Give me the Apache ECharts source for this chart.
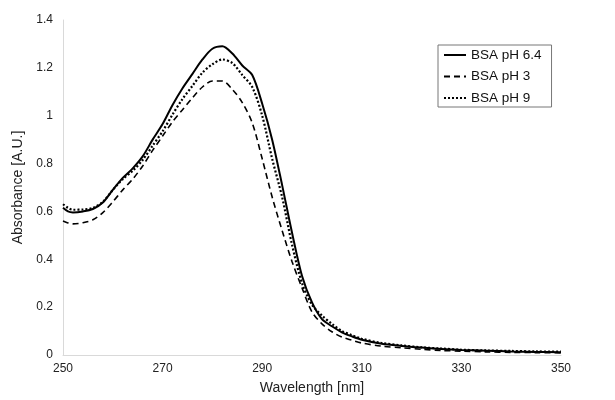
<!DOCTYPE html>
<html>
<head>
<meta charset="utf-8">
<script src="https://cdn.jsdelivr.net/npm/echarts@6/dist/echarts.min.js"></script>
<style>html,body{margin:0;padding:0;background:#fff}#c{width:615px;height:400px}</style>
</head>
<body>
<div id="c"></div>
<script>
var wavelengths = [250,251,252,254,256,258,260,262,264,266,268,270,272,274,276,278,280,282,284,286,288,290,292,294,296,298,300,302,304,306,308,310,314,318,322,326,330,335,340,345,350];
var phNeutral = [0.615,0.600,0.596,0.600,0.610,0.637,0.690,0.740,0.780,0.830,0.900,0.965,1.045,1.115,1.175,1.235,1.280,1.290,1.260,1.210,1.170,1.050,0.900,0.710,0.510,0.330,0.220,0.150,0.120,0.095,0.078,0.064,0.047,0.038,0.031,0.025,0.021,0.018,0.015,0.013,0.012];
var phAcid = [0.560,0.552,0.548,0.553,0.565,0.595,0.640,0.690,0.735,0.790,0.855,0.915,0.975,1.025,1.075,1.120,1.145,1.145,1.110,1.055,0.970,0.820,0.660,0.520,0.390,0.280,0.180,0.130,0.097,0.075,0.062,0.050,0.037,0.030,0.024,0.019,0.016,0.013,0.011,0.010,0.009];
var phBase = [0.630,0.615,0.607,0.608,0.615,0.640,0.690,0.735,0.770,0.815,0.875,0.935,1.005,1.070,1.125,1.180,1.215,1.235,1.220,1.170,1.120,1.000,0.820,0.660,0.460,0.300,0.210,0.165,0.130,0.100,0.083,0.068,0.050,0.040,0.032,0.027,0.022,0.019,0.017,0.015,0.014];
var seriesNames = ['BSA pH 6.4','BSA pH 3','BSA pH 9'];

function pairs(v){ return wavelengths.map(function(w,i){ return [w, v[i]]; }); }

var chart = echarts.init(document.getElementById('c'));
var font = 'Liberation Sans, Arial, sans-serif';
chart.setOption({
  animation: false,
  backgroundColor: '#fff',
  textStyle: {fontFamily: font},
  grid: {left: 63, right: 54, top: 20, bottom: 44},
  legend: {
    orient: 'vertical', left: 438, top: 45,
    padding: [3, 10, 2, 5],
    borderColor: '#777', borderWidth: 1,
    itemWidth: 22, itemHeight: 12, itemGap: 7.5,
    itemStyle: {opacity: 0},
    textStyle: {fontSize: 13.5, color: '#111', fontFamily: font},
    data: seriesNames
  },
  xAxis: {
    type: 'value', min: 250, max: 350, interval: 20,
    name: 'Wavelength [nm]', nameLocation: 'middle', nameGap: 26,
    nameTextStyle: {fontSize: 14, color: '#222'},
    axisLine: {show: true, lineStyle: {color: '#d9d9d9', width: 1}},
    axisTick: {show: false},
    splitLine: {show: false},
    axisLabel: {fontSize: 12, color: '#222', margin: 8}
  },
  yAxis: {
    type: 'value', min: 0, max: 1.4, interval: 0.2,
    name: 'Absorbance [A.U.]', nameLocation: 'middle', nameGap: 37, nameRotate: 90,
    nameTextStyle: {fontSize: 14, color: '#222'},
    axisLine: {show: true, lineStyle: {color: '#d9d9d9', width: 1}},
    axisTick: {show: false},
    splitLine: {show: false},
    axisLabel: {fontSize: 12, color: '#222', margin: 10}
  },
  series: [
    {name: seriesNames[0], type: 'line', data: pairs(phNeutral), smooth: 0.3, showSymbol: false, symbol: 'none',
     lineStyle: {color: '#000', width: 2, type: 'solid'}, itemStyle: {color: '#000'}, z: 3},
    {name: seriesNames[1], type: 'line', data: pairs(phAcid), smooth: 0.3, showSymbol: false, symbol: 'none',
     lineStyle: {color: '#000', width: 1.6, type: [6, 4]}, itemStyle: {color: '#000'}, z: 2},
    {name: seriesNames[2], type: 'line', data: pairs(phBase), smooth: 0.3, showSymbol: false, symbol: 'none',
     lineStyle: {color: '#000', width: 2.2, type: [2, 2]}, itemStyle: {color: '#000'}, z: 2}
  ]
});
</script>
</body>
</html>
